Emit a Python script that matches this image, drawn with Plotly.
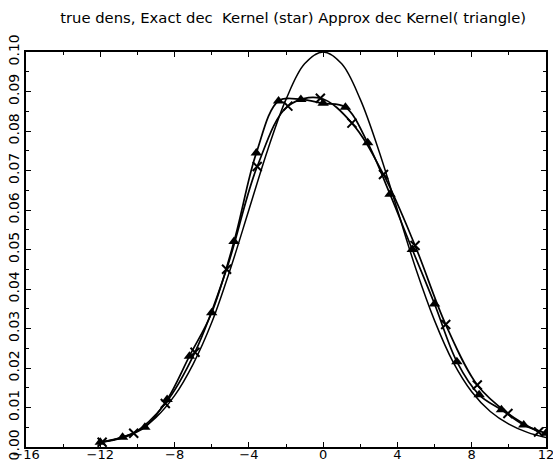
import plotly.graph_objects as go

# True density, sampled on a unit grid
true_x = [-12, -11, -10, -9, -8, -7, -6, -5, -4, -3, -2, -1, 0,
          1, 2, 3, 4, 5, 6, 7, 8, 9, 10, 11, 12]
true_y = [0.0012, 0.0022, 0.0040, 0.0075, 0.0130, 0.0210, 0.0315, 0.0450,
          0.0600, 0.0750, 0.0880, 0.0970, 0.1000, 0.0970, 0.0880, 0.0750,
          0.0600, 0.0450, 0.0320, 0.0215, 0.0140, 0.0090, 0.0058, 0.0037,
          0.0024]

# Exact deconvolution kernel estimate (star / cross markers)
exact_x = [-11.9, -10.2, -8.5, -6.9, -5.2, -3.55, -1.9, -0.15, 1.55, 3.25,
           4.95, 6.6, 8.3, 9.95, 11.6]
exact_y = [0.0012, 0.0035, 0.0110, 0.0240, 0.0450, 0.0710, 0.0863, 0.0883,
           0.0820, 0.0690, 0.0510, 0.0310, 0.0157, 0.0085, 0.0038]

# Approximate deconvolution kernel estimate (triangle markers)
approx_x = [-12.0, -10.8, -9.6, -8.4, -7.2, -6.0, -4.8, -3.6, -2.4, -1.2, 0.0,
            1.2, 2.4, 3.6, 4.8, 6.0, 7.2, 8.4, 9.6, 10.8, 12.0]
approx_y = [0.0012, 0.0025, 0.0050, 0.0120, 0.0230, 0.0340, 0.0520, 0.0744,
            0.0876, 0.0880, 0.0870, 0.0860, 0.0770, 0.0640, 0.0500, 0.0362,
            0.0216, 0.0132, 0.0094, 0.0056, 0.0035]

x_ticks = [-16, -12, -8, -4, 0, 4, 8, 12]
y_ticks = [0.00, 0.01, 0.02, 0.03, 0.04, 0.05, 0.06, 0.07, 0.08, 0.09, 0.10]

title_text = "true dens, Exact dec  Kernel (star) Approx dec Kernel( triangle)"

FONT = "DejaVu Sans"
INK = "black"

fig = go.Figure()

fig.add_trace(go.Scatter(
    x=true_x, y=true_y, mode="lines",
    line=dict(color=INK, width=1.5, shape="spline", smoothing=1.0),
    showlegend=False, hoverinfo="skip"))

fig.add_trace(go.Scatter(
    x=exact_x, y=exact_y, mode="lines+markers",
    line=dict(color=INK, width=1.7, shape="spline", smoothing=1.0),
    marker=dict(symbol="x-thin-open", size=9, color=INK,
                line=dict(color=INK, width=2)),
    showlegend=False, hoverinfo="skip"))

fig.add_trace(go.Scatter(
    x=approx_x, y=approx_y, mode="lines+markers",
    line=dict(color=INK, width=1.7, shape="spline", smoothing=1.0),
    marker=dict(symbol="triangle-up", size=10, color=INK),
    showlegend=False, hoverinfo="skip"))

axis_common = dict(
    showgrid=False, zeroline=False, automargin=False,
    showline=True, linecolor=INK, linewidth=1.5, mirror="allticks",
    ticks="inside", ticklen=5, tickwidth=1, tickcolor=INK,
    ticklabeloverflow="allow",
)

fig.update_layout(
    width=553, height=465,
    margin=dict(l=26, r=7, t=52, b=18, autoexpand=False),
    paper_bgcolor="white", plot_bgcolor="white",
    title=dict(text=title_text, x=0.53, xanchor="center",
               y=1 - 18 / 465, yanchor="middle", yref="container",
               font=dict(family=FONT, size=14.8, color=INK)),
    xaxis=dict(range=[-16, 12], tickvals=x_ticks,
               ticktext=[str(v) if v >= 0 else "\u2212" + str(-v) for v in x_ticks],
               tickfont=dict(family=FONT, size=13, color=INK),
               ticklabelstandoff=-5,
               minor=dict(ticks="inside", dtick=2, tick0=0, ticklen=3,
                          tickcolor=INK, showgrid=False),
               **axis_common),
    yaxis=dict(range=[0, 0.10], tickvals=y_ticks,
               ticktext=[f"{v:.2f}" for v in y_ticks], tickangle=-90,
               tickfont=dict(family=FONT, size=14, color=INK),
               minor=dict(ticks="inside", dtick=0.005, tick0=0, ticklen=3,
                          tickcolor=INK, showgrid=False),
               **axis_common),
)

fig.write_html("out.html")
